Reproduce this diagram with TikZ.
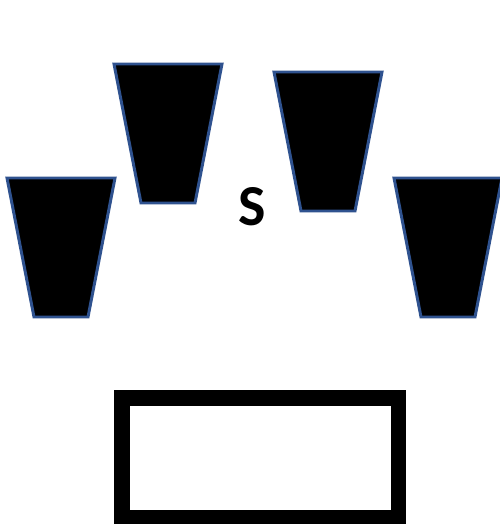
\documentclass[tikz,border=0pt]{standalone}
\usepackage{fontspec}
\newfontfamily\labelfont{Carlito}
\definecolor{cupblue}{RGB}{47,82,143}
\tikzset{
  cupline/.style={draw=cupblue,fill=black,line width=1.7pt,line join=miter},
  bucket/.pic={
    \draw[cupline] (-54,0) -- (54,0) -- (27,139) -- (-27,139) -- cycle;
  },
  tray/.style={draw=black,line width=9.1pt},
  marker/.style={font=\labelfont\bfseries\fontsize{33}{36}\selectfont,inner sep=0pt},
}
\begin{document}
\begin{tikzpicture}[x=0.02cm,y=-0.02cm]
  \useasboundingbox (0,0) rectangle (500,524);
  % four cups round the source
  \pic at (61,178) {bucket};
  \pic at (168,64) {bucket};
  \pic at (328,72) {bucket};
  \pic at (448,178) {bucket};
  \node[marker] (src) at (252,207) {S};
  % tray below
  \draw[tray] (122,398) rectangle (398.5,518);
\end{tikzpicture}
\end{document}
